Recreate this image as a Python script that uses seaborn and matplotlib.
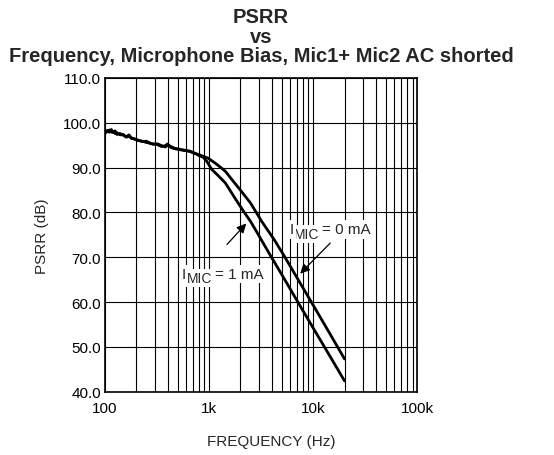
"""
PSRR vs frequency for the microphone bias, Mic1+ / Mic2 AC shorted.

Two curves (I_MIC = 0 mA and 1 mA) on a log frequency axis with a
full decade grid, datasheet style.
"""

import matplotlib

matplotlib.use("Agg")

import matplotlib.pyplot as plt
import seaborn as sns
from matplotlib.ticker import FixedLocator, LogLocator, NullFormatter


# -----------------------------
# 1. Data
# -----------------------------

# I_MIC = 1 mA (lower curve)
freq_1ma = [100, 105, 110, 115, 120, 125, 130, 140, 150, 160, 170, 180, 195,
            210, 230, 250, 270, 290, 320, 350, 380, 400, 430, 470, 520, 580,
            650, 720, 800, 880, 950, 1060, 1200, 1430, 1770, 2150, 2500, 2860,
            3300, 3860, 5000, 7000, 10000, 14000, 20000]
psrr_1ma = [97.6, 98.3, 97.9, 98.5, 97.8, 98.2, 97.4, 97.6, 97.2, 96.9, 97.3,
            96.6, 96.3, 96.1, 95.8, 95.9, 95.4, 95.3, 95.1, 94.7, 94.9, 95.3,
            94.5, 94.2, 94.0, 93.9, 93.6, 93.3, 92.7, 92.3, 91.4, 89.6, 88.4,
            86.6, 83.2, 80.2, 78.0, 75.7, 73.2, 70.5, 66.1, 60.3, 54.2, 48.5,
            42.4]

# I_MIC = 0 mA (upper curve)
freq_0ma = [100, 105, 110, 115, 120, 125, 130, 140, 150, 160, 170, 180, 195,
            210, 230, 250, 270, 290, 320, 350, 380, 400, 430, 470, 520, 580,
            650, 720, 800, 880, 980, 1144, 1300, 1430, 1700, 1980, 2500, 3200,
            4200, 5200, 7000, 10000, 14000, 20000]
psrr_0ma = [97.8, 98.0, 98.4, 97.9, 98.1, 97.6, 97.8, 97.3, 97.4, 96.8, 97.0,
            96.5, 96.4, 96.0, 95.9, 95.6, 95.5, 95.2, 95.3, 94.9, 94.6, 95.0,
            94.7, 94.3, 94.1, 93.8, 93.7, 93.2, 92.9, 92.5, 92.1, 91.0, 90.0,
            89.2, 87.0, 85.1, 82.1, 78.0, 74.0, 70.5, 65.4, 59.3, 53.5, 47.3]

# Axis ticks
x_ticks = [100, 1000, 10000, 100000]
x_tick_labels = ["100", "1k", "10k", "100k"]
y_ticks = [40, 50, 60, 70, 80, 90, 100, 110]
y_tick_labels = ["40.0", "50.0", "60.0", "70.0", "80.0", "90.0", "100.0", "110.0"]


# -----------------------------
# 2. Style
# -----------------------------

sns.set_style("white")
plt.rcParams["font.family"] = ["Liberation Sans", "DejaVu Sans"]

BLACK = "#000000"
LABEL_BOX = dict(facecolor="white", edgecolor="none", pad=1.5)
ARROW = dict(arrowstyle="-|>", color=BLACK, lw=0.9, mutation_scale=14)


def curve_label(ax, x, y, value_text):
    """Write 'I' + subscript 'MIC' + value, chained so the pieces sit together."""
    # Later pieces get a lower zorder so no white box hides a neighbour's glyph.
    main = ax.text(x, y, "I", fontsize=11, va="baseline", ha="left",
                   bbox=LABEL_BOX, zorder=7)
    sub = ax.annotate("MIC", xy=(1, 0), xycoords=main, xytext=(0.5, -3),
                      textcoords="offset points", fontsize=10, va="bottom",
                      bbox=LABEL_BOX, zorder=6)
    ax.annotate(value_text, xy=(1, 0), xycoords=sub, xytext=(2, 3),
                textcoords="offset points", fontsize=11, va="bottom",
                bbox=LABEL_BOX, zorder=5)


# -----------------------------
# 3. Plot
# -----------------------------

fig = plt.figure(figsize=(5.54, 4.56), dpi=100)
ax = fig.add_axes([0.1895, 0.1388, 0.5638, 0.688])

sns.lineplot(x=freq_0ma, y=psrr_0ma, ax=ax, color=BLACK, linewidth=2.0)
sns.lineplot(x=freq_1ma, y=psrr_1ma, ax=ax, color=BLACK, linewidth=2.0)

ax.set_xscale("log")
ax.set_xlim(100, 100000)
ax.set_ylim(40, 110)

ax.xaxis.set_major_locator(FixedLocator(x_ticks))
ax.set_xticklabels(x_tick_labels)
ax.xaxis.set_minor_locator(LogLocator(base=10, subs=range(2, 10)))
ax.xaxis.set_minor_formatter(NullFormatter())
ax.set_yticks(y_ticks)
ax.set_yticklabels(y_tick_labels)

ax.grid(which="both", axis="x", color=BLACK, linewidth=0.8)
ax.grid(which="major", axis="y", color=BLACK, linewidth=0.8)
ax.set_axisbelow(True)

ax.tick_params(which="both", length=0, labelsize=11, colors=BLACK)
ax.tick_params(axis="x", pad=7)
ax.tick_params(axis="y", pad=3)
for spine in ax.spines.values():
    spine.set_color(BLACK)
    spine.set_linewidth(1.2)

ax.set_xlabel("FREQUENCY (Hz)", fontsize=11, va="top")
ax.xaxis.set_label_coords(0.532, -0.135)
ax.set_ylabel("PSRR (dB)", fontsize=11, labelpad=10)
ax.set_title("PSRR\nvs\nFrequency, Microphone Bias, Mic1+ Mic2 AC shorted",
             fontsize=14.5, fontweight="bold", linespacing=1.05, pad=12)

# Curve labels with arrows
curve_label(ax, 5880, 75.3, "= 0 mA")
ax.annotate("", xy=(7170, 65.9), xytext=(15200, 73.6), arrowprops=ARROW, zorder=6)

curve_label(ax, 550, 65.4, "= 1 mA")
ax.annotate("", xy=(2371, 78.0), xytext=(1425, 72.4), arrowprops=ARROW, zorder=6)

fig.savefig("out.png", dpi=100, facecolor="white")
